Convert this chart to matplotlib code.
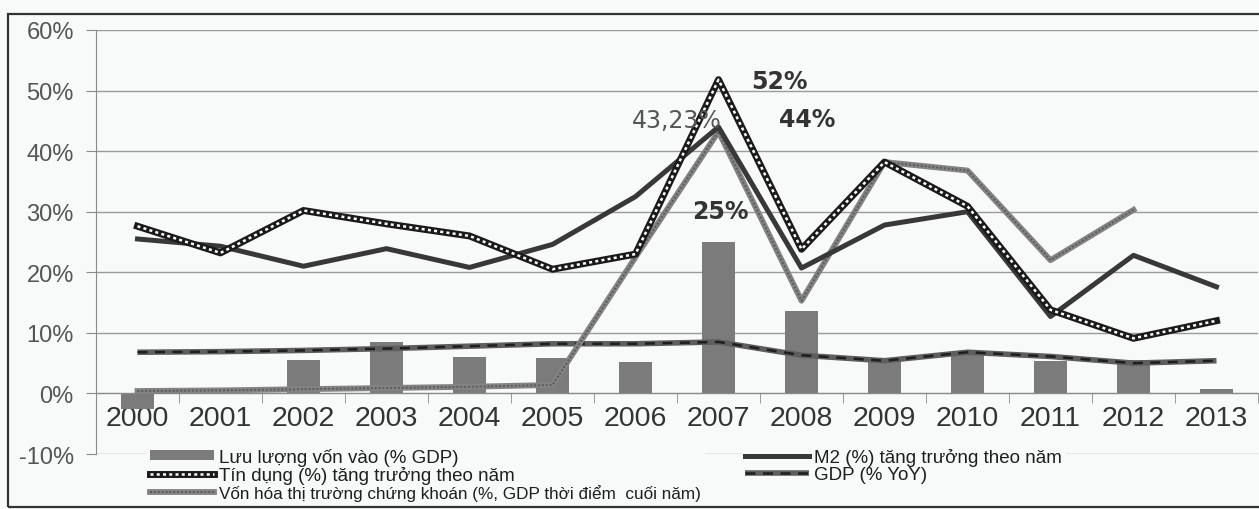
import numpy as np
import matplotlib
matplotlib.use('Agg')
import matplotlib.pyplot as plt
from matplotlib.patches import Rectangle
from matplotlib.legend_handler import HandlerTuple

years = ['2000', '2001', '2002', '2003', '2004', '2005', '2006',
         '2007', '2008', '2009', '2010', '2011', '2012', '2013']

# Luu luong von vao (% GDP) - bars
von_vao = [-2.5, 0.0, 5.6, 8.5, 6.0, 5.8, 5.2, 25.0, 13.6, 5.8, 6.6, 5.4, 5.6, 0.7]
# M2 (%) tang truong theo nam
m2 = [25.5, 24.3, 21.0, 23.9, 20.8, 24.6, 32.5, 44.0, 20.7, 27.8, 30.0, 12.7, 22.8, 17.6]
# Tin dung (%) tang truong theo nam
tin_dung = [27.6, 23.2, 30.2, 28.0, 26.0, 20.5, 23.0, 51.8, 23.8, 38.2, 30.9, 13.8, 9.1, 12.0]
# GDP (% YoY)
gdp = [6.8, 6.9, 7.1, 7.4, 7.8, 8.2, 8.2, 8.5, 6.3, 5.4, 6.8, 6.1, 5.0, 5.4]
# Von hoa thi truong chung khoan (% GDP cuoi nam)
von_hoa = [0.4, 0.5, 0.7, 0.9, 1.1, 1.4, 22.5, 43.23, 15.3, 38.2, 36.8, 22.0, 30.3, np.nan]

lbl_vao = 'Lưu lượng vốn vào (% GDP)'
lbl_td = 'Tín dụng (%) tăng trưởng theo năm'
lbl_vh = 'Vốn hóa thị trường chứng khoán (%, GDP thời điểm  cuối năm)'
lbl_m2 = 'M2 (%) tăng trưởng theo năm'
lbl_gdp = 'GDP (% YoY)'

bg = '#f8fafa'
fig = plt.figure(figsize=(12.59, 5.10), dpi=100, facecolor=bg)
ax = fig.add_axes([96 / 1259, 1 - 455 / 510, 1162 / 1259, 424 / 510], facecolor=bg)

x = np.arange(len(years))

bars = ax.bar(x, von_vao, width=0.4, color='#7b7b7b', zorder=2)

g1, = ax.plot(x, gdp, color='#5e5e5e', lw=4, zorder=3, solid_capstyle='butt')
g2, = ax.plot(x, gdp, color='#1e1e1e', lw=1.8, ls=(0, (4, 3)), zorder=3)

v1, = ax.plot(x, von_hoa, color='#838383', lw=4.2, zorder=4)
v2, = ax.plot(x, von_hoa, color='#5a5a5a', lw=1.4, ls=(0, (1, 1)), zorder=4)

m, = ax.plot(x, m2, color='#383838', lw=3.6, zorder=5)

t1, = ax.plot(x, tin_dung, color='#1a1a1a', lw=5.0, zorder=6)
t2, = ax.plot(x, tin_dung, color='white', lw=1.8, ls=(0, (1.2, 1.3)), zorder=6)

# annotations at the 2007 peaks
ann = dict(textcoords='offset points', ha='center', va='center', fontsize=17,
           family='DejaVu Sans', zorder=8)
ax.annotate(f'{round(tin_dung[7])}%', (7, tin_dung[7]), xytext=(44, -1),
            color='#333333', fontweight='bold', **ann)
ax.annotate(f'{round(m2[7])}%', (7, m2[7]), xytext=(64, 6),
            color='#333333', fontweight='bold', **ann)
ax.annotate(f'{von_hoa[7]:.2f}'.replace('.', ',') + '%', (7, von_hoa[7]),
            xytext=(-30, 8), color='#555555', **ann)
ax.annotate(f'{round(von_vao[7])}%', (7, von_vao[7]), xytext=(1, 22),
            color='#333333', fontweight='bold', **ann)

ax.set_xlim(-0.5, len(years) - 0.5)
ax.set_ylim(-10, 60)
ax.set_yticks(np.arange(-10, 61, 10))
ax.set_yticklabels([f'{v}%' for v in range(-10, 61, 10)])
ax.yaxis.grid(True, color='#9a9a9a', lw=1.0)
ax.set_axisbelow(True)

for s in ['top', 'right']:
    ax.spines[s].set_visible(False)
ax.spines['left'].set_color('#8a8a8a')
ax.spines['bottom'].set_position(('data', 0))
ax.spines['bottom'].set_color('#8a8a8a')

ax.set_xticks(x)
ax.set_xticklabels(years)
ax.set_xticks(np.arange(-0.5, len(years), 1), minor=True)
ax.tick_params(axis='x', which='major', length=0, pad=8, labelsize=20.5,
               labelcolor='#333333')
ax.tick_params(axis='x', which='minor', length=7, color='#8a8a8a', direction='out')
ax.tick_params(axis='y', length=7, color='#8a8a8a', pad=9, labelsize=17,
               labelcolor='#555555')
for lab in ax.get_xticklabels() + ax.get_yticklabels():
    lab.set_family('Liberation Sans')

leg_kw = dict(frameon=True, facecolor=bg, edgecolor='none', framealpha=1,
              handlelength=3.4, handletextpad=0.3,
              labelspacing=0.0, borderpad=0.2, borderaxespad=0,
              handleheight=0.5, fancybox=False,
              prop={'family': 'Liberation Sans', 'size': 13.5},
              handler_map={tuple: HandlerTuple(ndivide=1)})
leg1 = ax.legend([bars, (t1, t2), (v1, v2)], [lbl_vao, lbl_td, lbl_vh],
                 loc='upper left', bbox_to_anchor=(146 / 1259, 1 - 445 / 510),
                 bbox_transform=fig.transFigure, **leg_kw)
leg1.texts[2].set_fontsize(12.3)
for t in leg1.texts:
    t.set_color('#1e1e1e')
ax.add_artist(leg1)
leg2 = ax.legend([m, (g1, g2)], [lbl_m2, lbl_gdp],
                 loc='upper left', bbox_to_anchor=(741 / 1259, 1 - 445 / 510),
                 bbox_transform=fig.transFigure, **leg_kw)
for t in leg2.texts:
    t.set_color('#1e1e1e')

fig.add_artist(Rectangle((8 / 1259, 2 / 510), 1.0, 493 / 510, fill=False,
                         lw=1.6, ec='#333333', transform=fig.transFigure))

fig.savefig('out.png', dpi=100, facecolor=bg)
